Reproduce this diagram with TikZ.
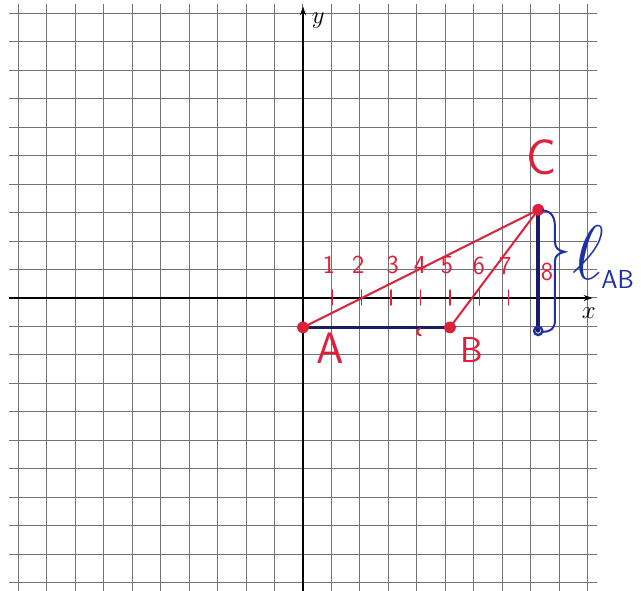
\documentclass[tikz,border=0pt]{standalone}
\usetikzlibrary{arrows.meta}
\definecolor{penred}{RGB}{222,32,58}
\definecolor{navy}{RGB}{28,28,100}
\definecolor{penblue}{RGB}{32,48,165}
\definecolor{gridgray}{RGB}{115,115,115}
\tikzset{
  gridline/.style={draw=gridgray, line width=1pt},
  axisline/.style={draw=black, line width=1.6pt, -{Stealth[length=9pt,width=6pt]}},
  redline/.style={draw=penred, line width=2pt, line cap=round},
  navyline/.style={draw=navy, line width=2.6pt, line cap=round},
  redtick/.style={draw=penred, line width=1.4pt, line cap=round},
  ticknum/.style={text=penred, font=\sffamily\fontsize{26}{26}\selectfont, inner sep=0pt},
  ptlabel/.style={text=penred, font=\sffamily\fontsize{44}{44}\selectfont, inner sep=0pt},
  axlabel/.style={font=\fontsize{26}{26}\selectfont, inner sep=0pt}
}
\begin{document}
\begin{tikzpicture}[x=29.4pt,y=29.4pt]
\useasboundingbox (-10.306,-9.966) rectangle (11.497,10.136);
\fill[white] (-10.306,-9.966) rectangle (11.497,10.136);
% grid paper
\draw[gridline] (-10,-10) grid (10,10);
% axes
\draw[axisline] (0,-10) -- (0,9.92);
\draw[axisline] (-10,0) -- (9.85,0);
\node[axlabel] (ylab) at (0.52,9.45) {$y$};
\node[axlabel] (xlab) at (9.72,-0.52) {$x$};
% red ticks and numbers
\foreach \i in {1,...,7} \draw[redtick] (\i,0.27) -- (\i,-0.24);
\node[ticknum] (n1) at (0.88,1.12) {1};
\node[ticknum] (n2) at (1.88,1.12) {2};
\node[ticknum] (n3) at (3.05,1.12) {3};
\node[ticknum] (n4) at (3.98,1.12) {4};
\node[ticknum] (n5) at (4.9,1.12) {5};
\node[ticknum] (n6) at (5.98,1.1) {6};
\node[ticknum] (n7) at (6.88,1.08) {7};
\node[ticknum] (n8) at (8.3,0.88) {8};
% points
\coordinate (A) at (0,-1);
\coordinate (B) at (5,-1);
\coordinate (C) at (8,3);
\coordinate (D) at (8,-1.12);
\draw[navyline] (A) -- (B);
\draw[redline] (A) -- (C);
\draw[redline] (C) -- (B);
\draw[navyline, line width=3.4pt] (C) -- (D);
\fill[penred] (A) circle (0.2);
\fill[penred] (B) circle (0.2);
\fill[penred] (C) circle (0.2);
\draw[penblue, line width=2.4pt] (D) circle (0.14);
% small red mark on AB
\draw[redline] (3.98,-1.03) .. controls (3.86,-1.08) and (3.86,-1.25) .. (4.0,-1.27);
% brace
\draw[penblue, line width=2pt, line cap=round]
  (8.15,2.98) .. controls (8.48,2.95) and (8.57,2.72) .. (8.57,2.4)
  -- (8.57,1.9) .. controls (8.57,1.7) and (8.7,1.6) .. (8.9,1.57)
  .. controls (8.7,1.52) and (8.57,1.45) .. (8.57,1.25)
  -- (8.57,-0.75) .. controls (8.57,-1.05) and (8.42,-1.15) .. (8.15,-1.15);
% labels
\node[ptlabel] (Alab) at (0.92,-1.72) {A};
\node[ptlabel, font=\sffamily\fontsize{36}{36}\selectfont] (Blab) at (5.75,-1.78) {B};
\node[ptlabel, font=\sffamily\fontsize{50}{50}\selectfont] (Clab) at (8.1,4.78) {C};
\node[text=penblue, font=\fontsize{24}{24}\selectfont, inner sep=0pt, scale=3.1] (ell) at (9.72,1.55) {$\ell$};
\node[text=penblue, font=\sffamily\fontsize{26}{26}\selectfont, inner sep=0pt] (sub) at (10.7,0.62) {AB};
\end{tikzpicture}
\end{document}
